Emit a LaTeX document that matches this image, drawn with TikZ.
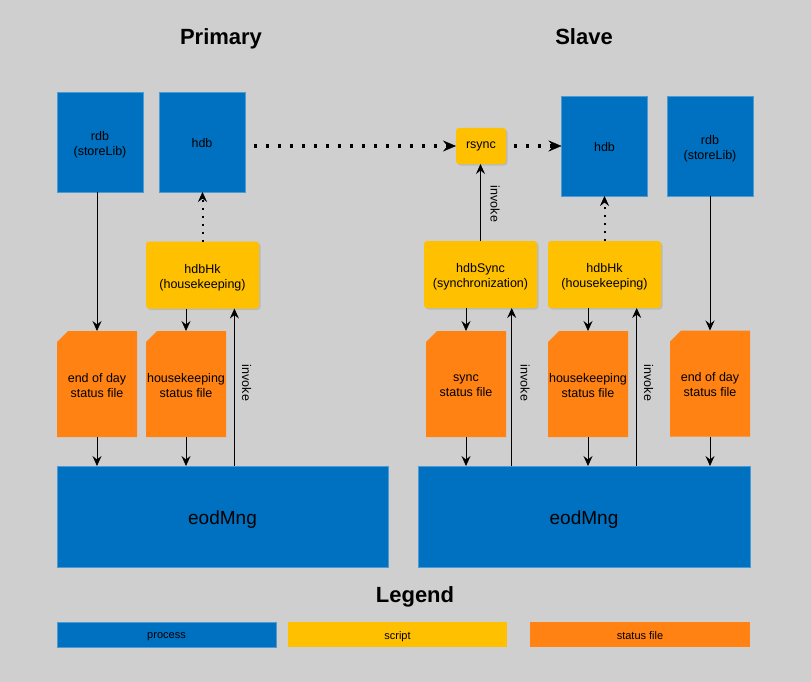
\documentclass[tikz,border=0pt]{standalone}
\usepackage{fontspec}
\setmainfont{Liberation Sans}
\usetikzlibrary{arrows.meta,shadows,calc}
\definecolor{bg}{HTML}{CFCFCF}
\definecolor{procblue}{HTML}{0070C0}
\definecolor{scriptyel}{HTML}{FFC000}
\definecolor{fileor}{HTML}{FF8213}
\newcommand{\lw}[2][2.5pt]{\raisebox{-#1}[\height][\depth]{#2}}
\newcommand{\statusfile}[4]{%
  \fill[fileor] (#2-29,#3-53) -- (#2+40,#3-53) -- (#2+40,#3+53) -- (#2-40,#3+53) -- (#2-40,#3-42) -- cycle;
  \node[filetext] (#1) at (#2,#3) {#4};}
\begin{document}
\begin{tikzpicture}[x=1pt,y=-1pt,
  txt/.style={font=\fontsize{12.5}{15}\selectfont, align=center, inner sep=0pt, outer sep=0pt},
  proc/.style={txt, fill=procblue, draw=procblue!70!white, line width=0.6pt},
  script/.style={txt, fill=scriptyel, rounded corners=3pt, drop shadow={opacity=0.25, shadow xshift=1.5pt, shadow yshift=-1.5pt}},
  filetext/.style={txt, minimum width=80pt, minimum height=106pt},
  lbl/.style={txt, rotate=-90},
  arr/.style={line width=0.8pt, -{Stealth[length=10pt,width=9pt,inset=3.5pt]}},
  hdots/.style={line width=3.1pt, dash pattern=on 3.1pt off 8.9pt, -{Stealth[length=13pt,width=11pt,inset=4.5pt,line width=0.4pt]}},
  vdots/.style={line width=2pt, dash pattern=on 2pt off 6pt, -{Stealth[length=10pt,width=9pt,inset=3.5pt,line width=0.4pt]}},
  title/.style={font=\bfseries\fontsize{22}{26}\selectfont, anchor=base, inner sep=0pt},
  legbar/.style={txt, font=\fontsize{11}{13}\selectfont, minimum width=219pt, minimum height=25pt}
]
\fill[bg] (0,0) rectangle (811,682);
\useasboundingbox (0,0) rectangle (811,682);

% titles
\node[title] (tprim) at (221,44.3) {Primary};
\node[title] (tslave) at (584,44.3) {Slave};

% blue top boxes
\node[proc, minimum width=86pt, minimum height=100pt] (rdbL) at (100,142) {\lw[3pt]{rdb}\\\lw[3pt]{(storeLib)}};
\node[proc, minimum width=86pt, minimum height=100pt] (hdbL) at (202,142) {\lw[1.5pt]{hdb}};
\node[proc, minimum width=86pt, minimum height=100pt] (hdbR) at (604.5,146) {\lw[1.5pt]{hdb}};
\node[proc, minimum width=86pt, minimum height=100pt] (rdbR) at (710,146) {\lw[3pt]{rdb}\\\lw[3pt]{(storeLib)}};

% scripts
\node[script, minimum width=50pt, minimum height=36pt] (rsync) at (481,146) {rsync};
\node[script, minimum width=113pt, minimum height=67pt] (hkL) at (202.5,275) {\lw{hdbHk}\\\lw{(housekeeping)}};
\node[script, minimum width=113pt, minimum height=67pt] (sync) at (480.5,274.5) {\lw{hdbSync}\\\lw{(synchronization)}};
\node[script, minimum width=113pt, minimum height=67pt] (hkR) at (604.5,274.5) {\lw{hdbHk}\\\lw{(housekeeping)}};

% status files
\statusfile{eodfL}{97}{384}{\lw[1.5pt]{end of day}\\ \lw[1.5pt]{status file}}
\statusfile{hkfL}{186}{384}{\lw[1.5pt]{housekeeping}\\\lw[1.5pt]{status file}}
\statusfile{syncf}{466}{384}{\lw[1.5pt]{sync}\\\lw[1.5pt]{status file}}
\statusfile{hkfR}{588}{384}{\lw[1.5pt]{housekeeping}\\\lw[1.5pt]{status file}}
\statusfile{eodfR}{710}{383.5}{\lw[1.5pt]{end of day}\\ \lw[1.5pt]{status file}}

% eodMng
\node[proc, font=\fontsize{19}{22}\selectfont, minimum width=331pt, minimum height=101pt] (mngL) at (222.5,516.5) {\lw[3pt]{eodMng}};
\node[proc, font=\fontsize{19}{22}\selectfont, minimum width=332pt, minimum height=101pt] (mngR) at (584,516.5) {\lw[3pt]{eodMng}};

% invoke helper coordinates
\coordinate (invx1) at (234.4,0);
\coordinate (invx2) at (511.7,0);
\coordinate (invx3) at (636.7,0);

% left arrows
\draw[arr] (rdbL.south -| eodfL.north) -- (eodfL.north);
\draw[arr] (hkL.south -| hkfL.north) -- (hkfL.north);
\draw[arr] (eodfL.south) -- (eodfL.south |- mngL.north);
\draw[arr] (hkfL.south) -- (hkfL.south |- mngL.north);
\draw[arr] (mngL.north -| invx1) -- (hkL.south -| invx1);
\draw[vdots] (hkL.north) -- (hkL.north |- hdbL.south);
\node[lbl] (invL) at (246.5,383) {invoke};

% right arrows
\draw[arr] (sync.north) -- (sync.north |- rsync.south);
\node[lbl] (invS) at (495,204) {invoke};
\draw[arr] (sync.south -| syncf.north) -- (syncf.north);
\draw[arr] (hkR.south -| hkfR.north) -- (hkfR.north);
\draw[arr] (rdbR.south -| eodfR.north) -- (eodfR.north);
\draw[arr] (syncf.south) -- (syncf.south |- mngR.north);
\draw[arr] (hkfR.south) -- (hkfR.south |- mngR.north);
\draw[arr] (eodfR.south) -- (eodfR.south |- mngR.north);
\draw[arr] (mngR.north -| invx2) -- (sync.south -| invx2);
\draw[arr] (mngR.north -| invx3) -- (hkR.south -| invx3);
\node[lbl] (invR1) at (525,383) {invoke};
\node[lbl] (invR2) at (648.5,383) {invoke};
\draw[vdots] (hkR.north) -- (hdbR.south);

% dotted sync path
\draw[hdots, shorten <=9pt] (hdbL.east |- rsync.west) -- (rsync.west);
\draw[hdots, shorten <=8pt] (rsync.east) -- (rsync.east -| hdbR.west);

% legend
\node[title] (tleg) at (415,602.3) {Legend};
\node[legbar, fill=procblue, draw=procblue!70!white, line width=0.6pt] (lproc) at (166.5,634.5) {\lw[2pt]{process}};
\node[legbar, fill=scriptyel] (lscript) at (397.5,634.5) {\lw[2pt]{script}};
\node[legbar, fill=fileor, minimum width=220pt] (lfile) at (640,634.5) {\lw[2pt]{status file\vphantom{p}}};
\end{tikzpicture}
\end{document}
